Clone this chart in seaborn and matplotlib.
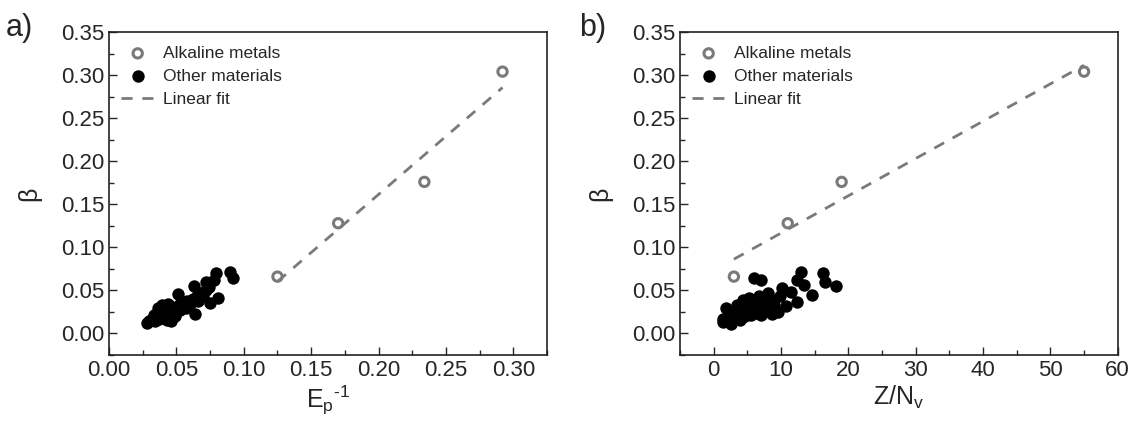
import numpy as np
import pandas as pd
import matplotlib
matplotlib.use("Agg")
import matplotlib.pyplot as plt
from matplotlib.ticker import MultipleLocator, AutoMinorLocator
import seaborn as sns

# alkaline metals (open circles)
ep_alk = [0.125, 0.170, 0.234, 0.292]
zn_alk = [3.0, 11.0, 19.0, 55.0]
beta_alk = [0.066, 0.128, 0.176, 0.304]

# other materials, panel a
ep_other = [0.028, 0.030, 0.031, 0.033, 0.033, 0.034, 0.035, 0.036, 0.037, 0.038,
            0.039, 0.039, 0.040, 0.041, 0.042, 0.043, 0.044, 0.044, 0.045, 0.046,
            0.047, 0.048, 0.049, 0.050, 0.051, 0.052, 0.053, 0.055, 0.056, 0.057,
            0.058, 0.060, 0.062, 0.063, 0.064, 0.065, 0.066, 0.068, 0.070, 0.072,
            0.072, 0.074, 0.075, 0.078, 0.079, 0.081, 0.090, 0.092, 0.036, 0.041]
beta_other_a = [0.012, 0.014, 0.016, 0.018, 0.022, 0.015, 0.020, 0.024, 0.017, 0.021,
                0.027, 0.033, 0.019, 0.024, 0.029, 0.016, 0.022, 0.034, 0.027, 0.015,
                0.031, 0.024, 0.020, 0.029, 0.046, 0.033, 0.027, 0.031, 0.036, 0.030,
                0.038, 0.034, 0.040, 0.055, 0.023, 0.043, 0.038, 0.047, 0.044, 0.050,
                0.060, 0.054, 0.035, 0.062, 0.070, 0.041, 0.071, 0.064, 0.029, 0.031]

# other materials, panel b
zn_other = [1.4, 1.4, 1.9, 2.2, 2.6, 2.8, 3.1, 3.4, 3.6, 3.9,
            4.2, 4.3, 4.4, 4.7, 4.9, 5.0, 5.3, 5.5, 5.6, 5.9,
            6.0, 6.3, 6.5, 6.8, 7.0, 7.1, 7.1, 7.5, 7.8, 8.0,
            8.1, 8.6, 9.0, 9.6, 9.8, 10.2, 10.7, 11.5, 12.4, 12.4,
            13.0, 13.4, 14.6, 16.2, 16.6, 18.1, 3.0, 5.0, 6.0, 8.2]
beta_other_b = [0.017, 0.0135, 0.029, 0.020, 0.011, 0.024, 0.017, 0.033, 0.022, 0.0155,
                0.028, 0.039, 0.019, 0.025, 0.032, 0.036, 0.041, 0.021, 0.028, 0.033,
                0.064, 0.031, 0.024, 0.043, 0.036, 0.062, 0.021, 0.027, 0.037, 0.047,
                0.029, 0.023, 0.033, 0.025, 0.043, 0.053, 0.032, 0.048, 0.062, 0.036,
                0.0716, 0.056, 0.0445, 0.070, 0.060, 0.055, 0.026, 0.022, 0.038, 0.041]

sns.set_style("ticks")
plt.rcParams['font.family'] = ['Liberation Sans', 'DejaVu Sans']
plt.rcParams['mathtext.fontset'] = 'custom'
plt.rcParams['mathtext.rm'] = 'Liberation Sans'
plt.rcParams['mathtext.it'] = 'Liberation Sans'
plt.rcParams['axes.unicode_minus'] = False

GRAY = "#7a7a7a"

fig = plt.figure(figsize=(11.36, 4.25), dpi=100)
ax1 = fig.add_axes([0.0960, 0.1647, 0.3855, 0.7600])
ax2 = fig.add_axes([0.5986, 0.1647, 0.3853, 0.7600])


def draw(ax, x_alk, x_other, y_other):
    sns.scatterplot(x=x_alk, y=beta_alk, ax=ax, marker='o', s=45,
                    facecolor='none', edgecolor=GRAY, linewidth=2.2,
                    label='Alkaline metals', zorder=3)
    sns.scatterplot(x=x_other, y=y_other, ax=ax, marker='o', s=80,
                    color='black', edgecolor='black', linewidth=0,
                    label='Other materials', zorder=2)
    k, b = np.polyfit(x_alk, beta_alk, 1)
    xf = np.array([min(x_alk), max(x_alk)])
    fit = pd.DataFrame({'x': xf, 'y': k * xf + b})
    sns.lineplot(data=fit, x='x', y='y', ax=ax, color=GRAY, linewidth=2,
                 dashes=False, label='Linear fit', zorder=1)
    ax.lines[-1].set_dashes([4, 3.5])
    ax.set_ylim(-0.025, 0.35)
    ax.yaxis.set_major_locator(MultipleLocator(0.05))
    ax.yaxis.set_major_formatter(plt.FormatStrFormatter('%.2f'))
    ax.xaxis.set_minor_locator(AutoMinorLocator(2))
    ax.yaxis.set_minor_locator(AutoMinorLocator(2))
    ax.tick_params(which='both', direction='in', top=False, right=False,
                   labelsize=16, width=1)
    ax.tick_params(which='major', length=6)
    ax.tick_params(which='minor', length=3.5)
    for sp in ax.spines.values():
        sp.set_linewidth(1.2)
        sp.set_color('#222222')
    ax.set_ylabel('β', fontsize=18, labelpad=14)
    leg = ax.legend(loc='upper left', frameon=False, fontsize=12.5,
                    handlelength=1.9, handletextpad=0.5, labelspacing=0.45,
                    borderaxespad=0.3, bbox_to_anchor=(0.0, 0.995))
    return leg


draw(ax1, ep_alk, ep_other, beta_other_a)
ax1.set_xlim(0.0, 0.325)
ax1.xaxis.set_major_locator(MultipleLocator(0.05))
ax1.xaxis.set_major_formatter(plt.FormatStrFormatter('%.2f'))
ax1.set_xlabel('E$_{\\mathregular{p}}$$^{\\mathregular{\u2010 1}}$', fontsize=18, labelpad=2)

draw(ax2, zn_alk, zn_other, beta_other_b)
ax2.set_xlim(-5, 60)
ax2.xaxis.set_major_locator(MultipleLocator(10))
ax2.set_xlabel(r'Z/N$_{\mathregular{v}}$', fontsize=18, labelpad=2)

fig.text(0.005, 0.97, 'a)', fontsize=22, va='top', ha='left')
fig.text(0.510, 0.97, 'b)', fontsize=22, va='top', ha='left')

fig.savefig('out.png', dpi=100)
